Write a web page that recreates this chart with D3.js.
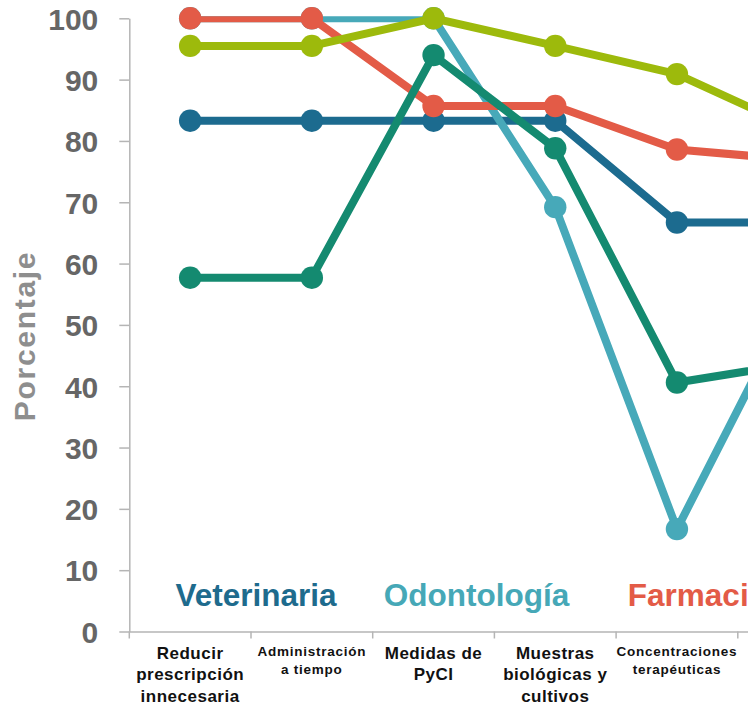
<!DOCTYPE html>
<html lang="es">
<head>
<meta charset="utf-8">
<script src="https://cdn.jsdelivr.net/npm/d3@7"></script>
<style>
  html, body { margin: 0; padding: 0; background: #fff; overflow: hidden; }
  svg { display: block; }
  text { font-family: "Liberation Sans", Arial, sans-serif; }
</style>
</head>
<body>
<svg id="chart" width="748" height="706"></svg>
<script>
// Categorías del eje X (saltos de línea con "\n")
const categorias = [
  "Reducir\nprescripción\ninnecesaria",
  "Administración\na tiempo",
  "Medidas de\nPyCI",
  "Muestras\nbiológicas y\ncultivos",
  "Concentraciones\nterapéuticas",
  ""
];

// Porcentajes por grupo
const veterinaria = [83.3, 83.3, 83.3, 83.3, 66.7, 66.7];
const odontologia = [100, 100, 100, 69.2, 16.7, 55.6];
const farmacia    = [100, 100, 85.7, 85.7, 78.6, 76.9];
const grupoVerde  = [57.7, 57.7, 94.0, 78.8, 40.6, 43.8];
const grupoLima   = [95.5, 95.5, 100, 95.5, 90.9, 81.8];

const ticksY = [0, 10, 20, 30, 40, 50, 60, 70, 80, 90, 100];
const etiquetasGrupos = ["Veterinaria", "Odontología", "Farmacia"];

const series = [
  { valores: veterinaria, color: "#1c6b8f" },
  { valores: odontologia, color: "#47a9b9" },
  { valores: farmacia,    color: "#e35b47" },
  { valores: grupoVerde,  color: "#148a70" },
  { valores: grupoLima,   color: "#9dba0c" }
];

const svg = d3.select("#chart");
const margenIzq = 129.3, margenSup = 18.3, base = 631.5, paso = 121.7;

const x = d3.scaleBand()
  .domain(d3.range(categorias.length))
  .range([margenIzq, margenIzq + paso * categorias.length])
  .paddingInner(0).paddingOuter(0);

const y = d3.scaleLinear().domain([0, 100]).range([base, margenSup]);

const gris = "#b5b5b5";

// Eje Y
const ejeY = svg.append("g")
  .attr("transform", `translate(${margenIzq},0)`)
  .call(d3.axisLeft(y).tickValues(ticksY).tickSize(10).tickSizeOuter(0).tickPadding(21));
ejeY.select(".domain").attr("stroke", gris).attr("stroke-width", 1.5);
ejeY.selectAll(".tick line").attr("stroke", gris).attr("stroke-width", 1.5);
ejeY.selectAll(".tick text")
  .attr("fill", "#666")
  .attr("font-size", 30)
  .attr("font-weight", "bold")
  .attr("font-family", "'Liberation Sans', Arial, sans-serif")
  .attr("dy", "0.36em");

// Eje X: línea base con marcas entre categorías
const ejeX = svg.append("g")
  .attr("transform", `translate(0,${base})`)
  .call(d3.axisBottom(x).tickSize(0).tickSizeOuter(0).tickFormat(""));
ejeX.select(".domain").attr("stroke", gris).attr("stroke-width", 1.5);
ejeX.selectAll(".tick").remove();
const limites = d3.range(categorias.length + 1).map(i => margenIzq + i * x.step());
ejeX.selectAll("line.limite")
  .data(limites)
  .join("line")
  .attr("class", "limite")
  .attr("x1", d => d).attr("x2", d => d)
  .attr("y1", 0).attr("y2", 7)
  .attr("stroke", gris).attr("stroke-width", 1.5);

// Etiquetas de categoría, tamaño ajustado al ancho de la banda
categorias.forEach((cat, i) => {
  if (!cat) return;
  const lineas = cat.split("\n");
  const larga = d3.max(lineas, l => l.length);
  const corta = larga >= 14;
  const fs = corta ? 13.5 : 17;
  const esp = corta ? 0.75 : 0.5;
  const alto = corta ? 18.3 : 21.5;
  const t = svg.append("text")
    .attr("x", x(i) + x.bandwidth() / 2)
    .attr("text-anchor", "middle")
    .attr("font-size", fs)
    .attr("font-weight", "bold")
    .attr("letter-spacing", esp)
    .attr("fill", "#111");
  lineas.forEach((l, k) => {
    t.append("tspan")
      .attr("x", x(i) + x.bandwidth() / 2)
      .attr("y", 646.5 + 0.716 * fs + k * alto)
      .text(l);
  });
});

// Título del eje Y
svg.append("text")
  .attr("transform", `translate(35,336) rotate(-90)`)
  .attr("text-anchor", "middle")
  .attr("font-size", 30)
  .attr("font-weight", "bold")
  .attr("letter-spacing", 1.7)
  .attr("fill", "#8e8e8e")
  .text("Porcentaje");

// Recorte del área de trazado para las líneas
svg.append("clipPath").attr("id", "area")
  .append("rect")
  .attr("x", margenIzq).attr("y", margenSup - 2)
  .attr("width", 2000).attr("height", base - margenSup + 2);

const linea = d3.line()
  .x((d, i) => x(i) + x.bandwidth() / 2)
  .y(d => y(d));

series.forEach(s => {
  const g = svg.append("g");
  g.append("path")
    .attr("d", linea(s.valores))
    .attr("fill", "none")
    .attr("stroke", s.color)
    .attr("stroke-width", 8)
    .attr("stroke-linejoin", "round")
    .attr("clip-path", "url(#area)");
  g.selectAll("circle")
    .data(s.valores)
    .join("circle")
    .attr("cx", (d, i) => x(i) + x.bandwidth() / 2)
    .attr("cy", d => y(d))
    .attr("r", 11.2)
    .attr("fill", s.color);
});

// Nombres de los grupos (el último continúa fuera del área visible)
const coloresGrupos = ["#1e6b8d", "#46a8b7", "#e35b47"];
etiquetasGrupos.forEach((nombre, i) => {
  svg.append("text")
    .attr("x", 256 + i * 220.5)
    .attr("y", 605.5)
    .attr("text-anchor", "middle")
    .attr("font-size", 31.5)
    .attr("font-weight", "bold")
    .attr("fill", coloresGrupos[i])
    .text(nombre);
});
</script>
</body>
</html>
